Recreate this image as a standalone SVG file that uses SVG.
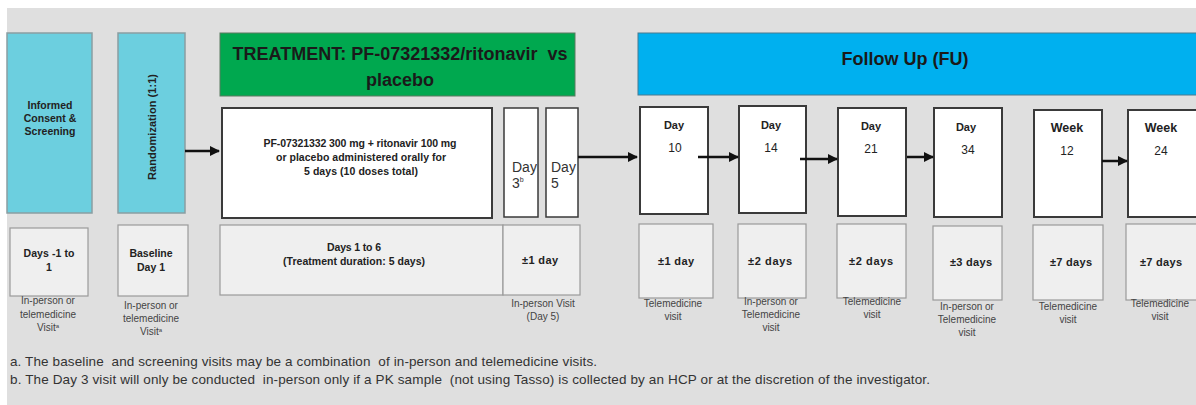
<svg xmlns="http://www.w3.org/2000/svg" width="1196" height="405" viewBox="0 0 1196 405">
  <defs>
    <marker id="arrow" viewBox="0 0 10 10" refX="9" refY="5" markerWidth="4" markerHeight="4" orient="auto">
      <path d="M0,0 L10,5 L0,10 z" fill="#111"/>
    </marker>
    <clipPath id="clip-day3"><rect x="505" y="109" width="32" height="107"/></clipPath>
    <clipPath id="clip-day5"><rect x="547" y="109" width="30" height="107"/></clipPath>
    <style>
      text { font-family: "Liberation Sans", Arial, sans-serif; fill: #1a1a1a; white-space: pre; }
      .teal { fill: #6ccfdf; stroke: #8a9ea2; stroke-width: 1.5; }
      .visit { fill: #ffffff; stroke: #3a3a3a; stroke-width: 2; }
      .win { fill: #efefef; stroke: #9a9a9a; stroke-width: 1.2; }
      .hdr { font-size: 18px; font-weight: bold; text-anchor: middle; }
      .sm { font-size: 10.5px; font-weight: bold; text-anchor: middle; fill: #222; }
      .tol { font-size: 11px; font-weight: bold; text-anchor: middle; fill: #222; }
      .lbl { font-size: 11px; font-weight: bold; text-anchor: middle; fill: #222; }
      .num { font-size: 12px; text-anchor: middle; fill: #222; }
      .day { font-size: 14px; fill: #333; }
      .note { font-size: 10px; text-anchor: middle; fill: #444; }
      .foot { font-size: 13.5px; fill: #333; }
      .conn { stroke: #111; stroke-width: 2.5; fill: none; marker-end: url(#arrow); }
    </style>
  </defs>

  <rect x="0" y="0" width="1196" height="405" fill="#ffffff"/>
  <rect x="7" y="8" width="1189" height="397" fill="#dfdfdf"/>

  <!-- Screening -->
  <g id="screening">
    <rect class="teal" x="7" y="33" width="85" height="180"/>
    <text class="sm" x="50" y="109">Informed</text>
    <text class="sm" x="50" y="122">Consent &amp;</text>
    <text class="sm" x="50" y="135">Screening</text>
  </g>
  <g id="screening-window">
    <rect class="win" x="10" y="228" width="78" height="68"/>
    <text class="sm" x="49" y="257" textLength="51">Days -1 to</text>
    <text class="sm" x="49" y="271">1</text>
    <text class="note" x="48" y="304">In-person or</text>
    <text class="note" x="48" y="318">telemedicine</text>
    <text class="note" x="48" y="331">Visit<tspan style="font-size:6px" dy="-3">a</tspan></text>
  </g>

  <!-- Randomization -->
  <g id="randomization">
    <rect class="teal" x="118" y="33" width="67" height="180"/>
    <text class="sm" style="font-size:11px" transform="translate(156,127) rotate(-90)" textLength="106">Randomization (1:1)</text>
  </g>
  <g id="baseline-window">
    <rect class="win" x="118" y="225" width="70" height="71"/>
    <text class="sm" x="151" y="257">Baseline</text>
    <text class="sm" x="151" y="271">Day 1</text>
    <text class="note" x="151" y="309">In-person or</text>
    <text class="note" x="151" y="322">telemedicine</text>
    <text class="note" x="151" y="335">Visit<tspan style="font-size:6px" dy="-3">a</tspan></text>
  </g>

  <!-- Treatment period -->
  <g id="treatment-header">
    <rect x="220" y="33" width="355" height="63" fill="#00a84f" stroke="#5a7a60" stroke-width="1"/>
    <text class="hdr" x="400" y="60" textLength="335">TREATMENT: PF-07321332/ritonavir  vs</text>
    <text class="hdr" x="400" y="86">placebo</text>
  </g>
  <g id="treatment-dosing">
    <rect class="visit" x="222" y="108" width="270" height="110"/>
    <text class="sm" x="360" y="147" textLength="193">PF-07321332 300 mg + ritonavir 100 mg</text>
    <text class="sm" x="361" y="161" textLength="170">or placebo administered orally for</text>
    <text class="sm" x="361" y="175" textLength="114">5 days (10 doses total)</text>
  </g>
  <g id="day3">
    <rect class="visit" x="504" y="108" width="34" height="109" style="stroke-width:1.5"/>
    <g clip-path="url(#clip-day3)">
      <text class="day" x="512" y="172">Day</text>
      <text class="day" x="512" y="188">3<tspan style="font-size:7px" dy="-6">b</tspan></text>
    </g>
  </g>
  <g id="day5">
    <rect class="visit" x="546" y="108" width="32" height="109" style="stroke-width:1.5"/>
    <g clip-path="url(#clip-day5)">
      <text class="day" x="551" y="172">Day</text>
      <text class="day" x="551" y="188">5</text>
    </g>
  </g>
  <g id="treatment-window">
    <rect class="win" x="220" y="225" width="283" height="70"/>
    <text class="sm" x="354" y="251" textLength="54">Days 1 to 6</text>
    <text class="sm" x="354" y="265" textLength="142">(Treatment duration: 5 days)</text>
  </g>
  <g id="day5-window">
    <rect class="win" x="503" y="225" width="77" height="70"/>
    <text class="tol" x="540" y="264" textLength="36">±1 day</text>
    <text class="note" x="543" y="307">In-person Visit</text>
    <text class="note" x="543" y="320">(Day 5)</text>
  </g>

  <!-- Follow-up period -->
  <g id="followup-header">
    <rect x="638" y="33" width="570" height="62" fill="#00b0ef" stroke="#4a7a90" stroke-width="1"/>
    <text class="hdr" x="905" y="65" textLength="127">Follow Up (FU)</text>
  </g>

  <g id="day10">
    <rect class="visit" x="640" y="107" width="68" height="107"/>
    <text class="lbl" x="674" y="129">Day</text>
    <text class="num" x="675" y="152">10</text>
  </g>
  <g id="day10-window">
    <rect class="win" x="639" y="224" width="74" height="74"/>
    <text class="tol" x="676" y="265" textLength="36">±1 day</text>
    <text class="note" x="673" y="307">Telemedicine</text>
    <text class="note" x="673" y="320">visit</text>
  </g>

  <g id="day14">
    <rect class="visit" x="739" y="106" width="67" height="107"/>
    <text class="lbl" x="771" y="129">Day</text>
    <text class="num" x="771" y="152">14</text>
  </g>
  <g id="day14-window">
    <rect class="win" x="738" y="224" width="68" height="74"/>
    <text class="tol" x="770" y="265" textLength="44">±2 days</text>
    <text class="note" x="771" y="305">In-person or</text>
    <text class="note" x="771" y="318">Telemedicine</text>
    <text class="note" x="771" y="331">visit</text>
  </g>

  <g id="day21">
    <rect class="visit" x="838" y="108" width="68" height="108"/>
    <text class="lbl" x="871" y="130">Day</text>
    <text class="num" x="871" y="153">21</text>
  </g>
  <g id="day21-window">
    <rect class="win" x="837" y="224" width="69" height="74"/>
    <text class="tol" x="871" y="265" textLength="44">±2 days</text>
    <text class="note" x="872" y="305">Telemedicine</text>
    <text class="note" x="872" y="318">visit</text>
  </g>

  <g id="day34">
    <rect class="visit" x="934" y="108" width="68" height="109"/>
    <text class="lbl" x="966" y="131">Day</text>
    <text class="num" x="968" y="154">34</text>
  </g>
  <g id="day34-window">
    <rect class="win" x="933" y="226" width="69" height="74"/>
    <text class="tol" x="971" y="266" textLength="42">±3 days</text>
    <text class="note" x="967" y="310">In-person or</text>
    <text class="note" x="967" y="323">Telemedicine</text>
    <text class="note" x="967" y="336">visit</text>
  </g>

  <g id="week12">
    <rect class="visit" x="1034" y="110" width="68" height="107"/>
    <text class="lbl" style="font-size:12.5px" x="1067" y="132">Week</text>
    <text class="num" x="1067" y="155">12</text>
  </g>
  <g id="week12-window">
    <rect class="win" x="1033" y="225" width="70" height="75"/>
    <text class="tol" x="1071" y="266" textLength="42">±7 days</text>
    <text class="note" x="1068" y="310">Telemedicine</text>
    <text class="note" x="1068" y="323">visit</text>
  </g>

  <g id="week24">
    <rect class="visit" x="1128" y="110" width="70" height="107"/>
    <text class="lbl" style="font-size:12.5px" x="1161" y="132">Week</text>
    <text class="num" x="1161" y="155">24</text>
  </g>
  <g id="week24-window">
    <rect class="win" x="1126" y="224" width="72" height="76"/>
    <text class="tol" x="1161" y="266" textLength="42">±7 days</text>
    <text class="note" x="1160" y="307">Telemedicine</text>
    <text class="note" x="1160" y="320">visit</text>
  </g>

  <!-- Connectors -->
  <g id="connectors">
    <line class="conn" x1="185" y1="151" x2="219" y2="151"/>
    <line class="conn" x1="578" y1="157" x2="637" y2="157"/>
    <line class="conn" x1="698" y1="157" x2="738" y2="157"/>
    <line class="conn" x1="800" y1="159" x2="837" y2="159"/>
    <line class="conn" x1="907" y1="157" x2="933" y2="157"/>
    <line class="conn" x1="1102" y1="161" x2="1127" y2="161"/>
  </g>

  <!-- Footnotes -->
  <g id="footnotes">
    <text class="foot" x="10" y="366" textLength="587">a. The baseline  and screening visits may be a combination  of in-person and telemedicine visits.</text>
    <text class="foot" x="10" y="384" textLength="920">b. The Day 3 visit will only be conducted  in-person only if a PK sample  (not using Tasso) is collected by an HCP or at the discretion of the investigator.</text>
  </g>
</svg>
